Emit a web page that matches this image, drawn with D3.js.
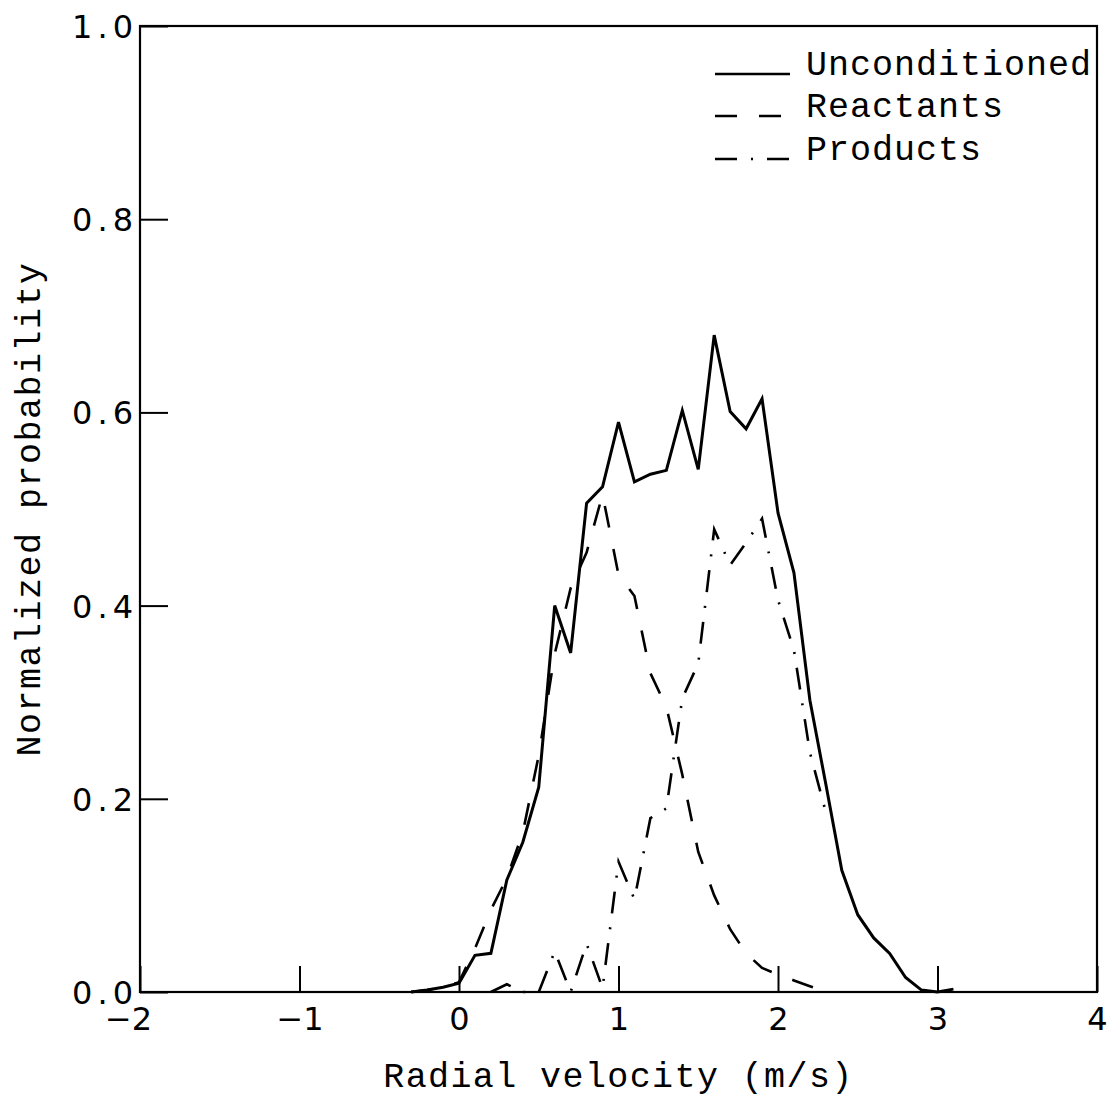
<!DOCTYPE html>
<html>
<head>
<meta charset="utf-8">
<script src="https://cdn.jsdelivr.net/npm/d3@7"></script>
<style>
  html, body { margin: 0; padding: 0; background: #fff; }
  svg { display: block; }
  text { font-family: "Liberation Mono", "DejaVu Sans Mono", monospace; fill: #000; }
</style>
</head>
<body>
<svg id="chart" width="1109" height="1100"></svg>
<script>
// ---- data ----
const seriesNames = ["Unconditioned", "Reactants", "Products"];

const velocityUncond = [-0.3,-0.2,-0.1,0.0,0.1,0.2,0.3,0.4,0.5,0.6,0.7,0.8,0.9,1.0,1.1,1.2,1.3,1.4,1.5,1.6,1.7,1.8,1.9,2.0,2.1,2.2,2.3,2.4,2.5,2.6,2.7,2.8,2.9,3.0,3.1];
const unconditioned = [0.000,0.002,0.005,0.009,0.038,0.040,0.116,0.155,0.212,0.400,0.351,0.506,0.523,0.590,0.528,0.536,0.540,0.602,0.541,0.680,0.601,0.583,0.614,0.496,0.434,0.302,0.215,0.126,0.080,0.056,0.040,0.015,0.002,0.000,0.003];

const velocityReact = [-0.3,-0.2,-0.1,0.0,0.1,0.2,0.3,0.4,0.5,0.6,0.7,0.8,0.9,1.0,1.1,1.2,1.3,1.4,1.5,1.6,1.7,1.8,1.9,2.0,2.1,2.2,2.3];
const reactants = [0.000,0.002,0.005,0.010,0.045,0.085,0.118,0.165,0.245,0.350,0.418,0.455,0.515,0.432,0.410,0.330,0.295,0.225,0.145,0.100,0.065,0.040,0.025,0.018,0.012,0.006,0.000];

const velocityProd = [0.2,0.3,0.4,0.5,0.6,0.7,0.8,0.9,1.0,1.1,1.2,1.3,1.4,1.5,1.6,1.7,1.8,1.9,2.0,2.1,2.2,2.3];
const products = [0.000,0.008,0.000,0.000,0.042,0.000,0.050,0.004,0.135,0.096,0.180,0.190,0.304,0.340,0.479,0.442,0.465,0.490,0.406,0.354,0.248,0.186];

const xTickValues = [-2,-1,0,1,2,3,4];
const xTickLabels = ["\u22122","\u22121","0","1","2","3","4"];
const yTickValues = [0,0.2,0.4,0.6,0.8,1.0];
const yTickLabels = ["0.0","0.2","0.4","0.6","0.8","1.0"];

const xTitle = "Radial velocity (m/s)";
const yTitle = "Normalized probability";

// ---- layout ----
const svg = d3.select("#chart");
const L = 140, R = 1097, T = 26, B = 992;
const x = d3.scaleLinear().domain([-2, 4]).range([L, R]);
const y = d3.scaleLinear().domain([0, 1]).range([B, T]);
const numFont = '"DejaVu Sans", "Liberation Sans", sans-serif';

// frame
svg.append("rect")
  .attr("x", L).attr("y", T).attr("width", R - L).attr("height", B - T)
  .attr("fill", "none").attr("stroke", "#000").attr("stroke-width", 2.2);

// x axis (inward ticks)
const xAxis = d3.axisBottom(x)
  .tickValues(xTickValues)
  .tickFormat((d, i) => xTickLabels[i])
  .tickSizeInner(-26).tickSizeOuter(0).tickPadding(0);
const gx = svg.append("g").attr("transform", `translate(0,${B})`).call(xAxis);
gx.select(".domain").remove();
gx.selectAll(".tick line").attr("stroke", "#000").attr("stroke-width", 2);
gx.selectAll(".tick text")
  .attr("y", 38).attr("dy", null)
  .attr("x", (d) => d === -2 ? -12 : 0)
  .style("font-size", "32px")
  .style("font-family", numFont)
  .attr("fill", "#000");

// y axis (inward ticks)
const yAxis = d3.axisLeft(y)
  .tickValues(yTickValues)
  .tickFormat((d, i) => yTickLabels[i])
  .tickSizeInner(-28).tickSizeOuter(0).tickPadding(0);
const gy = svg.append("g").attr("transform", `translate(${L},0)`).call(yAxis);
gy.select(".domain").remove();
gy.selectAll(".tick line").attr("stroke", "#000").attr("stroke-width", 2);
gy.selectAll(".tick text")
  .attr("x", -2).attr("dy", "0.36em")
  .attr("text-anchor", "end")
  .style("font-size", "32px")
  .style("letter-spacing", "5px")
  .style("font-family", numFont)
  .attr("fill", "#000");

// titles
svg.append("text")
  .attr("x", (L + R) / 2).attr("y", 1087)
  .attr("text-anchor", "middle")
  .style("font-size", "35px").style("letter-spacing", "1.4px")
  .text(xTitle);

svg.append("text")
  .attr("transform", `translate(40,${(T + B) / 2}) rotate(-90)`)
  .attr("text-anchor", "middle")
  .style("font-size", "35px").style("letter-spacing", "1.5px")
  .text(yTitle);

// lines
const styles = [
  { dash: null, width: 3 },
  { dash: "22,22", width: 2.6 },
  { dash: "22,14,2,14", width: 2.6 }
];
const seriesData = [
  velocityUncond.map((v, i) => [v, unconditioned[i]]),
  velocityReact.map((v, i) => [v, reactants[i]]),
  velocityProd.map((v, i) => [v, products[i]])
];
const line = d3.line().x(d => x(d[0])).y(d => y(d[1]));

const plot = svg.append("g");
seriesData.forEach((data, k) => {
  plot.append("path")
    .datum(data)
    .attr("d", line)
    .attr("fill", "none")
    .attr("stroke", "#000")
    .attr("stroke-width", styles[k].width)
    .attr("stroke-linejoin", "miter")
    .attr("stroke-dasharray", styles[k].dash);
});

// legend
const legend = svg.append("g");
const legendRowsY = [75, 117, 160];
seriesNames.forEach((name, k) => {
  const yy = legendRowsY[k];
  legend.append("line")
    .attr("x1", 715).attr("x2", k === 0 ? 790 : 789)
    .attr("y1", yy - 1).attr("y2", yy - 1)
    .attr("stroke", "#000")
    .attr("stroke-width", 2.4)
    .attr("stroke-dasharray", styles[k].dash);
  legend.append("text")
    .attr("x", 806).attr("y", yy)
    .style("font-size", "35px").style("letter-spacing", "1px")
    .text(name);
});
</script>
</body>
</html>
